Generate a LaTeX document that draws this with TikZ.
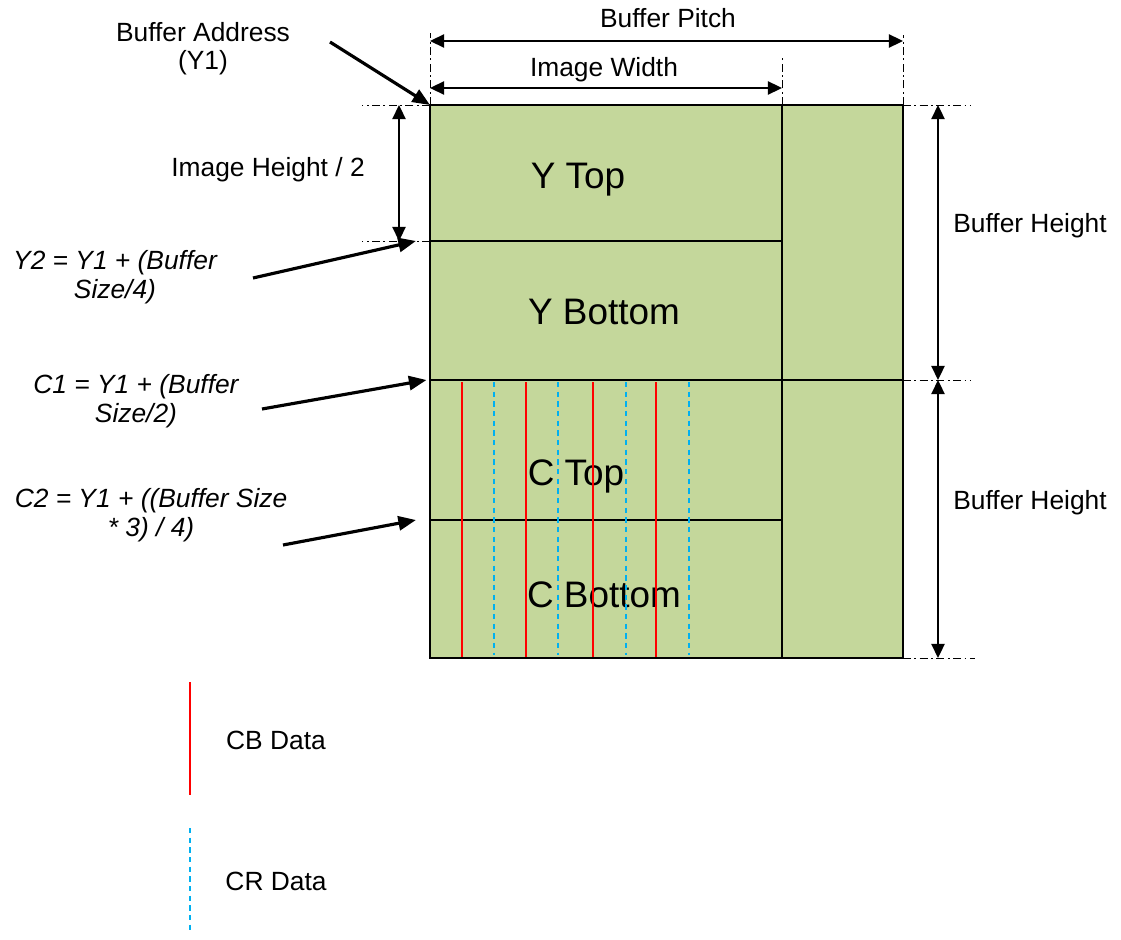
\documentclass[tikz,border=0pt]{standalone}
\usepackage{fontspec}
\setmainfont{Liberation Sans}
\usetikzlibrary{arrows.meta}
\definecolor{planegreen}{HTML}{C4D79B}
\definecolor{cbred}{HTML}{FF0000}
\definecolor{crblue}{HTML}{00B0F0}

\begin{document}
\begin{tikzpicture}[x=0.02cm, y=-0.02cm,
   every node/.style={font=\fontsize{15}{16}\selectfont, align=center, inner sep=0pt, anchor=base},
   part/.style={font=\fontsize{21}{24}\selectfont},
   addr/.style={font=\fontsize{15}{16.3}\selectfont\itshape},
   plane/.style={draw, line width=1pt, fill=planegreen},
   pointer/.style={-{Triangle[length=10pt,width=8pt]}, line width=1.8pt},
   dimen/.style={{Triangle[length=8pt,width=7.5pt]}-{Triangle[length=8pt,width=7.5pt]}, line width=1pt},
   guide/.style={line width=0.5pt, dash pattern=on 4.5pt off 2pt on 1pt off 2pt},
   cbline/.style={cbred, line width=1pt},
   crline/.style={crblue, line width=1pt, dash pattern=on 3pt off 2.5pt}]

\useasboundingbox (0,0) rectangle (1121,939);

% buffer corners and plane addresses
\coordinate (y1) at (430,105);
\coordinate (y2) at (430,241);
\coordinate (c1) at (430,380);
\coordinate (c2) at (430,520);
\coordinate (bl) at (430,658);
\coordinate (iwtop) at (782,105);
\coordinate (iwbot) at (782,658);
\coordinate (bptop) at (903,105);
\coordinate (bpmid) at (903,380);
\coordinate (bpbot) at (903,658);

\draw[plane] (y1) rectangle (bpbot);
\draw[line width=1pt] (iwtop) -- (iwbot);
\draw[line width=1pt] (y2) -- (782,241);
\draw[line width=1pt] (c1) -- (bpmid);
\draw[line width=1pt] (c2) -- (782,520);

\node[part] (ytop) at (578,189) {Y Top};
\node[part] (ybot) at (604,324) {Y Bottom};
\node[part] (ctop) at (576,485) {C Top};
\node[part] (cbot) at (604,607) {C Bottom};

\foreach \x in {462,526,593,656}
   \draw[cbline] (\x,382) -- (\x,657);
\foreach \x in {494,558,626,689}
   \draw[crline] (\x,382) -- (\x,655);

% extension lines
\draw[guide] (y1) -- (430,33);
\draw[guide] (iwtop) -- (782,55);
\draw[guide] (bptop) -- (903,35);
\draw[guide] (y1) -- (362,105);
\draw[guide] (y2) -- (362,241);
\draw[guide] (bptop) -- (970,105);
\draw[guide] (bpmid) -- (970,380);
\draw[guide] (bpbot) -- (975,658);

% dimensions
\coordinate (pitchl) at (430,41);
\coordinate (pitchr) at (903,41);
\coordinate (widthl) at (430,88);
\coordinate (widthr) at (782,88);
\coordinate (halft) at (399,105);
\coordinate (halfb) at (399,241);
\coordinate (heighta) at (938,105);
\coordinate (heightb) at (938,380);
\coordinate (heightc) at (938,658);
\draw[dimen] (pitchl) -- (pitchr);
\draw[dimen] (widthl) -- (widthr);
\draw[dimen] (halft) -- (halfb);
\draw[dimen] (heighta) -- (heightb);
\draw[dimen] (heightb) -- (heightc);

\node (pitch) at (668,28) {Buffer Pitch};
\node (width) at (604,77) {Image Width};
\node (half) at (268,176) {Image Height / 2};
\node (height1) at (1030,232) {Buffer Height};
\node (height2) at (1030,509) {Buffer Height};

% address labels (base = last line)
\node (addrlbl) at (203,70) {Buffer Address\\(Y1)};
\node[addr] (y2lbl) at (115,298) {Y2 = Y1 + (Buffer\\Size/4)};
\node[addr] (c1lbl) at (136,422) {C1 = Y1 + (Buffer\\Size/2)};
\node[addr] (c2lbl) at (151,536) {C2 = Y1 + ((Buffer Size\\* 3) / 4)};

\coordinate (addrfrom) at (330,42);
\coordinate (y2from) at (253,278);
\coordinate (c1from) at (262,409);
\coordinate (c2from) at (283,545);
\draw[pointer] (addrfrom) -- (y1);
\draw[pointer] (y2from) -- ([xshift=-8]y2);
\draw[pointer] (c1from) -- ([xshift=-2]c1);
\draw[pointer] (c2from) -- ([xshift=-8]c2);

% legend
\draw[cbline] (190,682) -- (190,795);
\draw[crline] (190,828) -- (190,933);
\node (cblbl) at (276,749) {CB Data};
\node (crlbl) at (276,890) {CR Data};

\end{tikzpicture}
\end{document}
